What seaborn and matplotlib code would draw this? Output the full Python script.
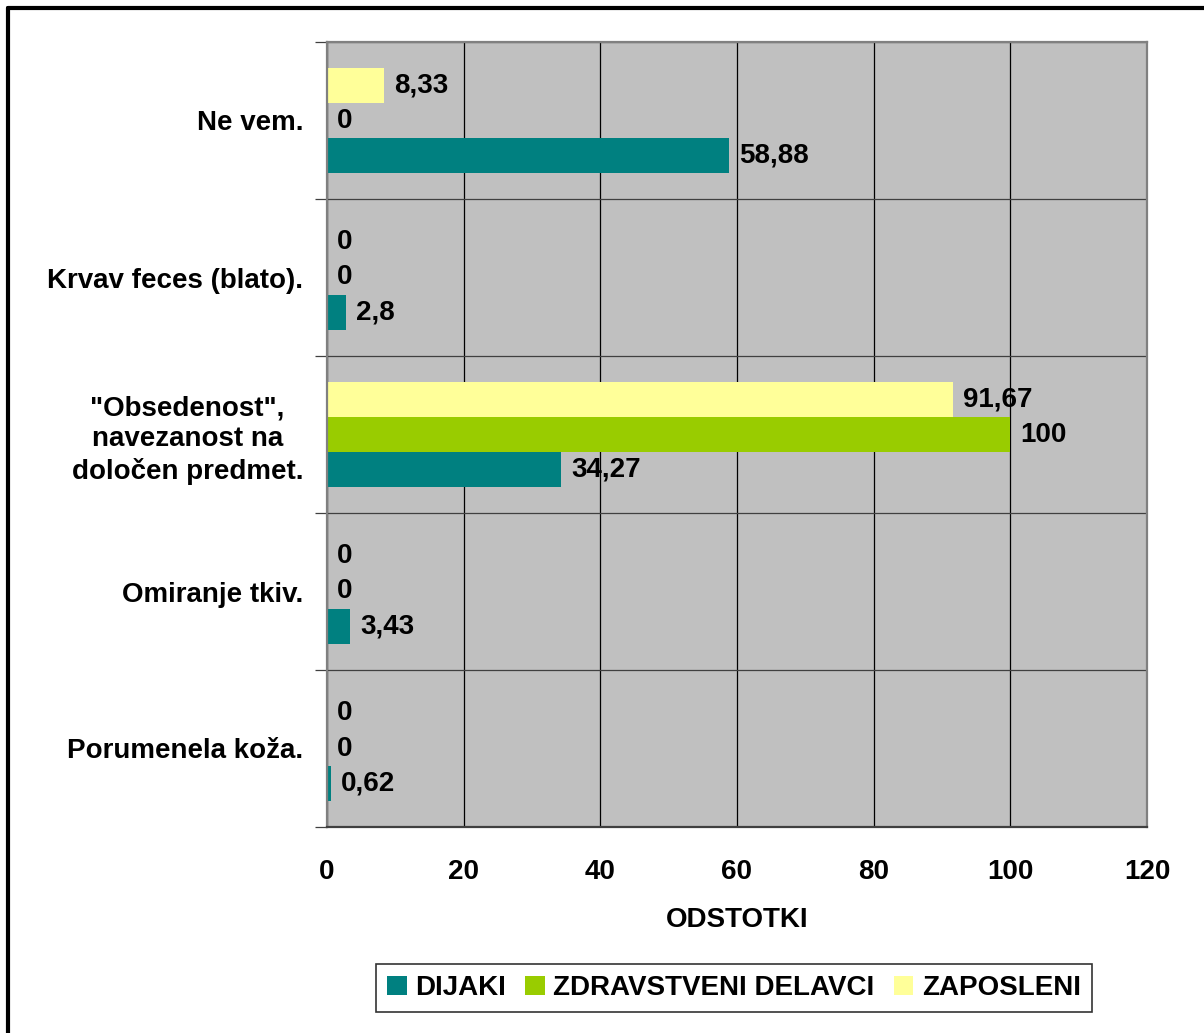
import numpy as np
import pandas as pd
import matplotlib
matplotlib.use("Agg")
from matplotlib import pyplot as plt
from matplotlib.patches import Patch
from matplotlib.lines import Line2D
import seaborn as sn

# data
categories = ['Ne vem.', 'Krvav feces (blato).',
              '"Obsedenost",\nnavezanost na\ndoločen predmet.',
              'Omiranje tkiv.', 'Porumenela koža.']
series_names = ['DIJAKI', 'ZDRAVSTVENI DELAVCI', 'ZAPOSLENI']
dijaki = [58.88, 2.8, 34.27, 3.43, 0.62]
zdravstveni = [0, 0, 100, 0, 0]
zaposleni = [8.33, 0, 91.67, 0, 0]
colors = {'DIJAKI': '#008080', 'ZDRAVSTVENI DELAVCI': '#99CC00', 'ZAPOSLENI': '#FFFF99'}

rows = []
for name, vals in zip(series_names, [dijaki, zdravstveni, zaposleni]):
    for cat, v in zip(categories, vals):
        rows.append({'cat': cat, 'series': name, 'value': v})
df = pd.DataFrame(rows)

sn.set_style("white")
plt.rcParams['font.family'] = ['Liberation Sans', 'DejaVu Sans']
plt.rcParams['font.weight'] = 'bold'
plt.rcParams['text.color'] = 'black'
plt.rcParams['xtick.color'] = 'black'
plt.rcParams['ytick.color'] = 'black'
plt.rcParams['axes.labelcolor'] = 'black'

FS = 20

fig = plt.figure(figsize=(12.04, 10.33), dpi=100)
ax = fig.add_axes([327 / 1204, 1 - 827 / 1033, 820 / 1204, 785 / 1033])

# ZAPOSLENI drawn on top of each group, DIJAKI at the bottom
hue_order = series_names[::-1]
sn.barplot(data=df, x='value', y='cat', hue='series', order=categories, hue_order=hue_order,
           orient='h', palette=colors, width=0.67, saturation=1, legend=False, linewidth=0,
           ax=ax)

for cont, name in zip(ax.containers, hue_order):
    vals = df[df.series == name].set_index('cat').loc[categories, 'value']
    labels = ["{:g}".format(v).replace('.', ',') for v in vals]
    ax.bar_label(cont, labels=labels, padding=7, fontsize=FS, fontweight='bold', color='black')

ax.set_facecolor('#C0C0C0')
ax.set_xlim(0, 120)
ax.set_ylim(4.5, -0.5)
ax.set_xticks(np.arange(0, 121, 20))
ax.set_yticks(np.arange(len(categories)))
ax.set_yticklabels(categories, multialignment='center', linespacing=1.25, fontweight='bold')
ax.set_yticks(np.arange(-0.5, 5, 1), minor=True)
ax.xaxis.grid(True, color='black', linewidth=0.9)
ax.yaxis.grid(True, which='minor', color='#404040', linewidth=0.9)
ax.set_axisbelow(True)
for s in ax.spines.values():
    s.set_color('#808080')
    s.set_linewidth(1.6)
ax.spines['bottom'].set_color('#404040')

ax.tick_params(axis='x', length=9, width=0.9, color='#404040', pad=14, labelsize=FS)
ax.tick_params(axis='y', which='major', length=0, pad=17, labelsize=FS)
ax.tick_params(axis='y', which='minor', length=9, width=0.9, color='#404040', left=True)
for t in ax.get_xticklabels():
    t.set_fontweight('bold')

ax.set_ylabel('')
ax.set_xlabel('ODSTOTKI', fontsize=FS, fontweight='bold', labelpad=16)

handles = [Patch(facecolor=colors[n], edgecolor='none') for n in series_names]
leg = fig.legend(handles, series_names, loc='center', bbox_to_anchor=(734 / 1204, 1 - 988 / 1033),
                 ncol=3, prop={'weight': 'bold', 'size': FS}, frameon=True, fancybox=False,
                 handlelength=0.7, handleheight=0.7, handletextpad=0.3, columnspacing=0.7,
                 borderpad=0.4, borderaxespad=0.3)
leg.get_frame().set_edgecolor('black')
leg.get_frame().set_linewidth(1.2)

# outer chart border (only top and left edges visible in the reference)
fig.add_artist(Line2D([8 / 1204, 8 / 1204], [0, 1 - 8 / 1033], color='black', linewidth=3,
                      transform=fig.transFigure))
fig.add_artist(Line2D([8 / 1204, 1], [1 - 8 / 1033, 1 - 8 / 1033], color='black', linewidth=3,
                      transform=fig.transFigure))

fig.savefig('out.png', dpi=100)
